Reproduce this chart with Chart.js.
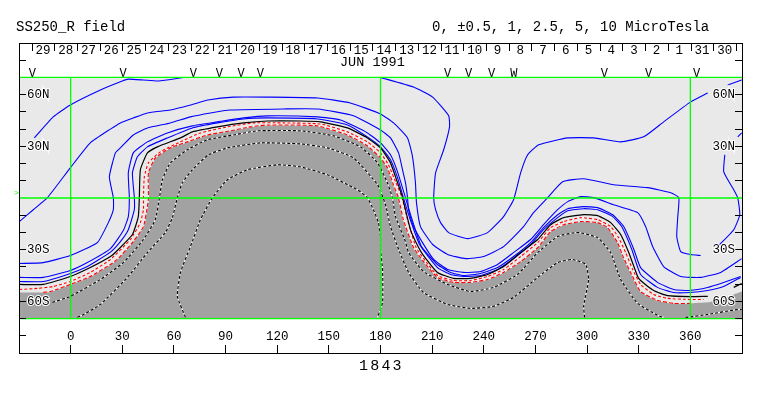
<!DOCTYPE html>
<html>
<head>
<meta charset="utf-8">
<style>
  html, body { margin: 0; padding: 0; background: #fff; }
  canvas { display: block; }
</style>
<script src="https://cdn.jsdelivr.net/npm/chart.js@4"></script>
</head>
<body>
<canvas id="chart" width="763" height="396"></canvas>
<script>
// axis labels
const lonTicks = [0, 30, 60, 90, 120, 150, 180, 210, 240, 270, 300, 330, 360];
const latTicks = [80, 60, 50, 40, 30, 20, 10, -10, -20, -30, -40, -50, -60, -70, -80];
const latNames = { "60": "60N", "30": "30N", "-30": "30S", "-60": "60S" };
const dayLabels = [29, 28, 27, 26, 25, 24, 23, 22, 21, 20, 19, 18, 17, 16, 15, 14, 13, 12, 11, 10, 9, 8, 7, 6, 5, 4, 3, 2, 1, 31, 30];
const dayCenters = [-16, -2.8, 10.4, 23.6, 36.8, 50, 63.2, 76.4, 89.6, 102.8, 116, 129.2, 142.4, 155.6, 168.8, 182, 195.2, 208.4, 221.6, 234.8, 248, 261.2, 274.4, 287.6, 300.8, 314, 327.2, 340.4, 353.6, 366.8, 380];
const dayTicks = [-22.4, -9.2, 4, 17.2, 30.4, 43.6, 56.8, 70, 83.2, 96.4, 109.6, 122.8, 136, 149.2, 162.4, 175.6, 188.8, 202, 215.2, 228.4, 241.6, 254.8, 268, 281.2, 294.4, 307.6, 320.8, 334, 347.2, 360.4, 373.6, 386.8];
const markLon = [-22.3, 30.5, 71.3, 86.4, 99, 110.2, 219, 231.2, 244.5, 257.4, 310, 335.7, 363.6];
const markText = ["V", "V", "V", "V", "V", "V", "V", "V", "V", "W", "V", "V", "V"];

// contours, [lon, lat]; a null lat is a break in the line
const blue1 = [[-21.1,34.9],[-10.1,47.1],[-0.2,54],[17.3,62.7],[30,67.9],[33.5,69],[42.3,68.5],[51,67.9],[65.5,70],[70,null],
  [180,70],[199.2,64.4],[210.3,58.6],[219.6,47.8],[220.1,41.3],[216.7,28],[212,14.6],[210.9,0.2],[212,-6.8],[214.9,-14.3],[219.6,-20.1],[230.6,-23.6],[242.2,-20.1],[251.5,-10.8],[257.3,-1],[261.4,14.6],[265.5,25.1],[271.9,30.9],[288.8,34.9],[303.9,34.9],[319.5,32.6],[332.9,35.5],[344.5,44.2],[360.2,55.8],[370.1,61],[375,null],[381.7,65.6],[389.8,68.5]];
const blue2 = [[-29.8,-13.7],[-21.7,-6.8],[-13.5,0.2],[-0.2,17.5],[11.4,32],[23.1,40],[28.9,43.6],[36.4,46.5],[44.6,49.4],[57.9,51.1],[69.6,54],[79.8,56.9],[94.6,58.6],[114.3,58.6],[143.4,58.1],[162.5,55.2],[180,48.8],[187.6,43.6],[195.7,34.9],[198.6,23.9],[200.3,8.9],[200.9,-2.7],[203.2,-16.6],[210.3,-27],[219,-32.8],[229.5,-35.2],[239.9,-34],[251.5,-28.2],[263.1,-16.6],[268.9,-8.5],[277.1,0.2],[285.8,9.4],[298,11.2],[315.4,7.7],[335.2,6],[348.6,3.1],[353.3,0.2],[352.7,-10.8],[352.1,-22.4],[354.4,-31.1],[360.2,-32.8],[366,-33.4],[370,null],[375.9,-28.2],[385.2,-18.4],[388.7,-9.7],[387.5,0.2],[385.2,4.8],[379.4,15.2],[380,25.1],[384,null],[387.5,35.5],[389.8,37.8]];
const blue3 = [[-29.8,-38],[-15.9,-37.5],[-0.2,-33.4],[15.5,-25.9],[21.9,-14.3],[24.8,-6.8],[24.8,0.2],[22.5,12.3],[26,26.2],[28.9,29.1],[36.4,36.6],[44.6,40.7],[57.9,43.6],[69.6,47.1],[81.2,49.4],[92.8,51.1],[123.6,51.7],[143.4,51.7],[164.3,47.8],[180,39.5],[185.8,34.9],[190.5,26.2],[192.8,16.4],[194.5,8.9],[195.7,0.2],[196.3,-6.8],[199.2,-16.6],[204.4,-25.9],[210.9,-35.7],[219,-41.5],[228.3,-43.2],[238.2,-42.7],[248,-38.6],[257.3,-31.7],[267.2,-24.1],[274.7,-15.5],[282.9,-6.8],[288.8,-2.1],[296.3,0.8],[303.9,0.2],[315.4,-3.9],[329.4,-8.5],[334,-16.6],[338.1,-28.2],[344.5,-39.8],[354.4,-45.6],[366,-46.1],[377.6,-43.2],[389.8,-35.2]];
const blue4 = [[-29.8,-46.1],[-15.9,-46.1],[-0.2,-42.1],[9.7,-37.5],[23.1,-29.4],[30.6,-18.9],[33.5,-10.8],[34.1,0.2],[33.5,14.6],[36.4,26.2],[44.6,32.6],[56.2,37.8],[70.7,41.9],[85.3,44.2],[100.4,46.5],[114.3,47.7],[143.4,47.1],[156.8,45.3],[172.4,37.8],[180,32],[185.8,25.1],[189.9,15.2],[194.5,0.2],[198,-11.4],[203.8,-28.2],[213.1,-38.6],[220.7,-43.2],[228.3,-45],[238.2,-43.8],[248,-40.4],[257.3,-34],[267.2,-25.9],[274.7,-17.2],[282.9,-9.7],[288.8,-6.2],[298,-5],[306.1,-5.6],[314.9,-9.7],[321.3,-16.6],[327.2,-29.9],[331.1,-40.4],[340.9,-49],[350.3,-53.1],[359.6,-53.7],[370,-52],[379.3,-49.1],[389.2,-45.6]];
const blue5 = [[-29.8,-48.5],[-15.9,-48.5],[-0.2,-43.8],[9.7,-39.8],[23.1,-31.4],[28.9,-25.3],[33.5,-18.4],[37,-6.8],[37,0.2],[35.9,14.6],[38.8,23.9],[44.6,29.7],[56.2,34.9],[70.7,40.7],[85.3,43.6],[100.4,45.9],[114.3,46.5],[143.4,45.9],[160.8,42.4],[172.4,35.5],[180,29.7],[185.8,22.2],[189.9,11.8],[193.3,0.2],[196.9,-11.4],[202.7,-27],[213.1,-40.4],[220.7,-44.4],[228.3,-45.6],[238.2,-45],[248,-41.5],[257.3,-35.1],[267.2,-27],[274.7,-18.4],[282.9,-11.4],[288.8,-7.4],[298,-6.2],[306.1,-6.8],[314.9,-10.8],[320.1,-16.6],[326,-29.9],[331.1,-44.4],[340.9,-51.9],[350.3,-54.9],[359.6,-54.9],[370,-53.7],[379.3,-51.4],[389.2,-46.1]];
const zeroLine = [[-29.8,-50.2],[-15.9,-50.2],[-0.2,-45.6],[11.4,-40.4],[23.1,-34],[27.7,-29.9],[35.9,-21.2],[39.3,-10.8],[39.9,0.2],[40.5,16.4],[44.6,26.2],[50.4,29.7],[63.8,34.9],[70.7,38.4],[85.3,41.3],[100.4,43.6],[114.3,44.7],[133.5,44.7],[145.1,44.2],[160.8,40.7],[172.4,34.9],[180,29.1],[185.8,20.4],[189.9,8.9],[192.8,0.2],[197.4,-18.4],[202.1,-28.8],[205,-33.4],[213.1,-43.2],[222.4,-46.7],[232.3,-46.7],[242.2,-44.4],[251.5,-39.8],[261.4,-31.7],[271.3,-24.1],[278.8,-15.5],[286.4,-11.4],[298,-9.7],[306.1,-10.2],[313.7,-14.3],[319.5,-21.2],[324.2,-31.7],[329.4,-45.6],[331.1,-47.9],[338.7,-53.7],[346.8,-56.7],[359.6,-57.3],[370.1,-57.1],[376,null],[385.2,-51.9],[389.8,-49.6]];
const redLine = [[-29.8,-53.1],[-19.4,-52.5],[-10.1,-51.4],[-0.2,-48.5],[11.4,-43.2],[23.1,-35.7],[34.7,-24.1],[40.5,-14.3],[42.3,-6.8],[42.3,0.2],[42.8,12.3],[45.2,20.4],[52.1,26.8],[63.8,32.6],[75.4,37.8],[91.1,41.3],[106.2,43.6],[123.6,43.6],[145.1,43],[160.8,38.4],[172.4,32.6],[180,26.2],[184.6,19.3],[189,8.9],[192.5,0.2],[196,-13.7],[200.7,-28.8],[205,-35.1],[213.1,-45],[222.4,-47.9],[232.3,-47.9],[242.2,-45.6],[251.5,-41.5],[261.4,-34],[271.3,-25.9],[278.8,-17.2],[286.4,-13.7],[296.3,-11.4],[306.1,-12.6],[313.7,-16.6],[318.3,-23],[322.4,-31.7],[326.5,-41.5],[331.1,-50.2],[338.7,-56],[346.8,-58.3],[359.6,-58.9],[367.7,-58.9]];
const greyEdge = [[-30,-54.8],[-15.9,-54.8],[-11.8,-54.3],[-0.2,-50.2],[11.4,-45.6],[23.1,-38.6],[27.1,-35.7],[36.4,-25.3],[42.3,-16.6],[44.6,-5],[45.2,0.2],[45.2,14.6],[49.2,23.3],[57.9,29.1],[67.8,32.6],[79.4,36.6],[92.8,39],[104.4,41.3],[114.3,42.4],[143.4,41.9],[160.8,36.6],[172.4,30.3],[180,23.3],[184,17.5],[187.5,7.7],[190.4,0.2],[193.3,-12.6],[199.2,-28.8],[205,-36.9],[213.1,-46.1],[222.4,-49],[232.3,-49],[242.2,-47.3],[251.5,-43.2],[261.4,-36.9],[271.3,-28.8],[278.8,-19.5],[286.4,-15.5],[296.3,-13.7],[306.1,-14.3],[311.9,-17.2],[317.7,-25.9],[321.2,-34.6],[325.3,-43.2],[331.1,-54.3],[341,-59.5],[350.3,-61.2],[359.6,-61.2],[370.1,-60.6],[377.6,-58.9],[385.2,-56],[390,-54.3]];
const dash1 = [[-10.6,-60.6],[-0.2,-57.1],[17.3,-47.3],[30.6,-37.5],[42.3,-24.1],[49.2,-12.6],[51.6,0.2],[53.3,10.6],[57.9,20.4],[67.8,28],[79.4,33.8],[94.6,36.6],[108.5,39],[133.5,39],[152.7,36.1],[168.4,29.7],[178.3,20.4],[184,8.9],[186.9,0.2],[188.7,-10.8],[194.5,-25.3],[196.3,-31.7],[205,-42.7],[219,-50.2],[232.3,-54.3],[245.7,-51.9],[259.6,-44.4],[271.3,-31.7],[282.9,-22.4],[294.5,-20],[306.1,-23],[313.7,-31.7],[319.5,-47.3],[329.4,-61.2],[341,-68.1],[344.5,-69.4],[350,null],[357.2,-69.4],[370.1,-67.6],[387.5,-64.7],[389.8,-64.7]];
const dash2 = [[3.9,-69.3],[6.8,-68.1],[17.3,-61.8],[33,-46.1],[44.6,-31.7],[55,-20.1],[59.1,-11.4],[62,0.2],[64.9,8.9],[70.7,16.4],[80,25.1],[91.1,29.1],[110.3,32],[133.5,31.4],[149.2,29.1],[164.3,23.3],[178.3,7.7],[182.9,-3.9],[185.8,-16.6],[190.5,-29.9],[196.3,-43.2],[205,-54.9],[219,-61.8],[232.3,-64.1],[245.7,-62.9],[257.3,-57.7],[271.3,-46.1],[282.9,-37.5],[291.6,-35.7],[299.2,-38.6],[300.9,-47.3],[298,-62.9],[298.6,-69.3]];
const dash3 = [[66.7,-69.3],[62,-57.1],[63.8,-43.2],[69.6,-28.2],[75.4,-12.6],[82.4,0.2],[91.1,10.6],[102.7,16.4],[120.1,19.3],[133.5,18.1],[149.2,13.5],[164.3,6],[168.4,3.6],[172.4,0.2],[175.9,-6.8],[178.8,-14.3],[180,-22.4],[180,-29.9],[181.2,-41.5],[181.2,-60.6],[178.3,-69.3]];
const panel = [[-30,70],[390,70]];
const greenLines = [
  [[0,-70],[0,70]],
  [[180,-70],[180,70]],
  [[360,-70],[360,70]],
  [[-30,0],[390,0]],
  [[-30,70],[390,70]],
  [[-30,-70],[390,-70]]
];

const MONO = "'Liberation Mono', monospace";
const BLUE = "#0000ff";
const GREEN = "#00ff00";

function pts(arr) {
  return arr.map(p => ({ x: p[0], y: p[1] }));
}

function line(arr, color, width, dash) {
  return {
    data: pts(arr), showLine: true, pointRadius: 0, tension: 0.15,
    borderColor: color, borderWidth: width, borderDash: dash || [], fill: false
  };
}

function area(arr, color) {
  return {
    data: pts(arr), showLine: true, pointRadius: 0, tension: 0.15, borderWidth: 0,
    borderColor: "transparent", backgroundColor: color, fill: { target: { value: -70 } }
  };
}

// listed bottom layer first
const layers = [
  area(panel, "#e9e9e9"),
  area(greyEdge, "#a2a2a2"),
  line(blue1, BLUE, 1.1),
  line(blue2, BLUE, 1.1),
  line(blue3, BLUE, 1.1),
  line(blue4, BLUE, 1.1),
  line(blue5, BLUE, 1.1),
  line(redLine, "#fff", 1),
  line(redLine, "#ff0000", 1.1, [3, 2]),
  line(greyEdge.slice(1, -4), "#fff", 1),
  line(greyEdge.slice(1, -4), "#ff0000", 1.1, [4, 2]),
  line(zeroLine, "#000", 1.2),
  line(dash1, "#fff", 1.1),
  line(dash1, "#000", 1.1, [3, 2]),
  line(dash2, "#fff", 1.1),
  line(dash2, "#000", 1.1, [3, 2]),
  line(dash3, "#fff", 1.1),
  line(dash3, "#000", 1.1, [3, 2])
];
greenLines.forEach(g => layers.push(line(g, GREEN, 1.3)));
layers.forEach((d, i) => { d.order = layers.length - i; });

function setTicks(values) {
  return function(scale) {
    scale.ticks = values.map(v => ({ value: v }));
  };
}

function flat(scale) {
  if (scale.isHorizontal()) scale.height = 0;
  else scale.width = 0;
}

// every axis sits on the frame and draws inward, so the negative tick lengths
function lonAxis(position, values, extra) {
  return Object.assign({
    type: "linear", position: position, min: -30, max: 390,
    afterBuildTicks: setTicks(values), afterFit: flat,
    grid: { drawOnChartArea: false, tickLength: -8, tickColor: "#000", tickWidth: 1 },
    border: { display: false },
    ticks: { display: false }
  }, extra);
}

function latAxis(position, pad) {
  return {
    type: "linear", position: position, min: -90, max: 90,
    afterBuildTicks: setTicks(latTicks), afterFit: flat,
    grid: { drawOnChartArea: false, tickLength: -7, tickColor: "#000", tickWidth: 1, z: 1 },
    border: { color: "#000", width: 1, z: 1 },
    ticks: {
      mirror: true, padding: pad, color: "#000", autoSkip: false, z: 1,
      textStrokeColor: "#fff", textStrokeWidth: 2,
      font: { family: MONO, size: 12.5 },
      callback: v => latNames[v] || ""
    }
  };
}

function textPlugin() {
  return {
    id: "texts",
    afterDraw(chart) {
      const c = chart.ctx;
      const put = (s, x, y, font, color, spacing) => {
        c.save();
        c.font = font;
        c.textAlign = "left";
        c.textBaseline = "middle";
        c.fillStyle = color || "#000";
        c.letterSpacing = spacing || "0px";
        c.fillText(s, x, y);
        c.restore();
      };
      put("SS250_R field", 16, 27, "14px " + MONO);
      put("0, \u00b10.5, 1, 2.5, 5, 10 MicroTesla", 432, 27, "14px " + MONO);
      put("JUN 1991", 340, 62, "13.5px " + MONO);
      put("1843", 359, 366, "15px " + MONO, "#000", "2.2px");
      put(">", 14, 193, "8px " + MONO, GREEN);
    }
  };
}

new Chart(document.getElementById("chart"), {
  type: "scatter",
  data: { datasets: layers },
  plugins: [textPlugin()],
  options: {
    responsive: false,
    animation: false,
    layout: { padding: { left: 19, top: 43, right: 21, bottom: 43 } },
    plugins: { legend: { display: false }, tooltip: { enabled: false } },
    scales: {
      x: lonAxis("bottom", lonTicks, {
        border: { color: "#000", width: 1 },
        ticks: {
          display: true, mirror: true, padding: 9, maxRotation: 0, autoSkip: false, color: "#000",
          font: { family: MONO, size: 12.5 },
          callback: v => String(v)
        }
      }),
      xTop: lonAxis("top", dayTicks, {
        border: { color: "#000", width: 1 }
      }),
      xDays: lonAxis("top", dayCenters, {
        grid: { drawOnChartArea: false, drawTicks: false },
        ticks: {
          display: true, mirror: true, padding: 0, maxRotation: 0, autoSkip: false, color: "#000",
          font: { family: MONO, size: 12.5 },
          callback: (v, i) => String(dayLabels[i])
        }
      }),
      xMarks: lonAxis("top", markLon, {
        grid: { drawOnChartArea: false, drawTicks: false },
        ticks: {
          display: true, mirror: true, padding: 24, maxRotation: 0, autoSkip: false, color: "#000",
          font: { family: MONO, size: 12 },
          callback: (v, i) => markText[i]
        }
      }),
      y: latAxis("left", 8),
      yRight: latAxis("right", -7)
    }
  }
});
</script>
</body>
</html>
